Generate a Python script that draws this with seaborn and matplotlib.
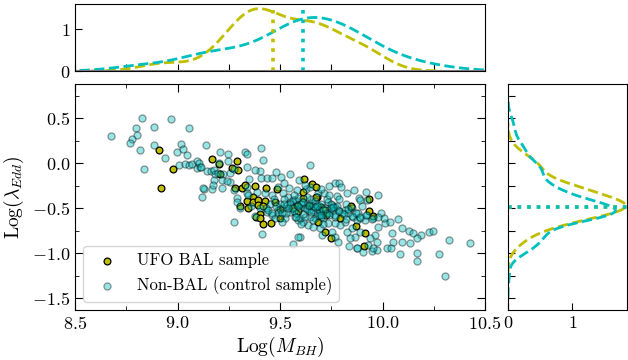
import numpy as np
import matplotlib
matplotlib.use("Agg")
import matplotlib.pyplot as plt
import seaborn as sns
from matplotlib.ticker import MultipleLocator

# ---------------- data ----------------
bal_mbh = [8.911, 8.976, 8.92, 9.17, 9.202, 9.209, 9.267, 9.289, 9.293, 9.282,
           9.313, 9.33, 9.305, 9.337, 9.345, 9.38, 9.43, 9.487, 9.617,
           9.656, 9.679, 9.936, 9.846, 9.936, 9.955, 9.91, 9.915, 9.747, 9.72,
           9.457, 9.419, 9.402, 9.381, 9.5, 9.37, 9.37, 9.394, 9.427, 9.478,
           9.394, 9.419, 9.5, 9.581, 9.589, 9.614, 9.642, 9.674, 9.70,
           9.72, 9.723, 9.687, 9.793, 9.845, 9.871, 9.678, 9.614, 9.565, 9.40]
bal_ledd = [0.145, -0.06, -0.27, 0.05, -0.005, -0.12, -0.055, 0.02, -0.07, -0.28,
            -0.28, -0.245, -0.48, -0.415, -0.50, -0.255, -0.275, -0.29, -0.175,
            -0.235, -0.38, -0.395, -0.49, -0.535, -0.585, -0.915, -0.78, -0.825, -0.76,
            -0.665, -0.68, -0.565, -0.595, -0.61, -0.37, -0.425, -0.41, -0.42, -0.43,
            -0.465, -0.48, -0.505, -0.48, -0.535, -0.39, -0.47, -0.38, -0.49,
            -0.52, -0.57, -0.65, -0.605, -0.475, -0.70, -0.26, -0.32, -0.50, -0.61]

nonbal_mbh = [
    8.676, 8.827, 8.967, 8.796, 8.885, 9.058, 8.80, 8.776, 8.768, 8.817,
    8.885, 8.937, 8.836, 8.996, 9.016, 9.026, 9.046, 9.009, 9.038, 9.056,
    9.069, 9.097, 9.095, 9.108, 9.127, 9.118, 9.137,
    9.207, 9.245, 9.33, 9.204, 9.106, 9.142, 9.163, 9.18, 9.183, 9.199,
    9.224, 9.256, 9.276, 9.215, 9.256, 9.18, 9.123, 9.17, 9.277, 9.289,
    9.277, 9.305,
    9.339, 9.407, 9.417, 9.246, 9.337, 9.40, 9.113, 9.24, 9.35, 9.407,
    9.435, 9.46, 9.505, 9.594, 9.215, 9.337, 9.49, 9.545,
    9.646, 9.768, 9.788, 9.798, 9.627,
    9.828, 9.776, 9.885, 9.92, 9.991, 10.014, 10.037, 10.078, 10.097, 10.045,
    10.128, 10.147, 10.186, 10.227, 10.248, 10.326, 10.427, 10.097, 10.134, 10.02,
    10.04, 10.085, 10.167, 10.167, 10.276, 10.307, 9.877, 9.947, 9.975, 9.838,
    9.866, 9.598, 9.565, 9.414, 9.378,
    9.581, 9.646, 9.687, 9.716, 9.98, 9.923, 9.89, 9.573, 9.606, 9.581,
    9.597, 9.63, 9.654, 9.662, 9.695, 9.736, 9.752, 9.768, 9.784, 9.817,
    9.833, 9.858, 9.874, 9.89, 9.914, 9.923, 9.955, 10.009, 9.98, 9.963,
    9.939, 9.89, 9.849, 9.825, 9.817, 9.793, 9.768, 9.736, 9.711, 9.671,
    9.638, 9.614, 9.589, 9.662, 9.695, 9.752, 9.768, 9.841, 9.874, 9.906,
    9.931, 9.971, 9.955, 10.053, 9.784, 9.703, 9.646, 9.687,
    9.175, 9.338, 9.386, 9.427, 9.46, 9.517, 9.541, 9.549, 9.565, 9.59,
    9.289, 9.346, 9.435, 9.46, 9.492, 9.517, 9.533, 9.549, 9.573, 9.525,
    9.476, 9.598, 9.59, 9.508,
    9.48, 9.55, 9.52, 9.62, 9.70, 9.74, 9.86, 9.90, 9.378, 10.167,
    # dense, overlapping core
    9.60, 9.62, 9.64, 9.66, 9.68, 9.70, 9.72, 9.74, 9.76, 9.78,
    9.70, 9.73, 9.65, 9.58, 9.55, 9.52, 9.50, 9.47, 9.45, 9.43,
    9.53, 9.57, 9.63, 9.67, 9.75, 9.80, 9.82, 9.85, 9.88, 9.62,
    9.66, 9.60, 9.71, 9.77, 9.69, 9.61, 9.56, 9.49, 9.74, 9.79,
    9.36, 9.40, 9.44, 9.48, 9.51, 9.54, 9.57, 9.59, 9.61, 9.63,
    9.65, 9.67, 9.69, 9.71, 9.73, 9.75, 9.77, 9.79, 9.81, 9.83,
    9.85, 9.87, 9.89, 9.92, 9.95, 9.98, 9.64, 9.70, 9.76, 9.58,
    9.52, 9.46, 9.82, 9.68, 9.74]
nonbal_ledd = [
    0.30, 0.50, 0.49, 0.39, 0.40, 0.39, 0.31, 0.27, 0.22, 0.15,
    0.20, 0.06, -0.06, 0.13, 0.21, 0.16, 0.09, -0.02, -0.005, -0.02,
    -0.005, 0.02, -0.05, -0.04, -0.29, -0.37, 0.20,
    0.13, 0.10, 0.13, 0.0, 0.0, -0.09, -0.09, -0.075, -0.12, -0.11,
    -0.12, -0.11, -0.06, -0.19, -0.205, -0.185, -0.28, -0.29, -0.30, -0.39,
    -0.65, -0.50,
    0.105, 0.17, 0.04, 0.03, -0.04, -0.085, -0.04, -0.20, -0.175, -0.165,
    -0.16, -0.165, -0.15, -0.185, -0.28, -0.26, -0.265, -0.27,
    -0.02, -0.22, -0.215, -0.26, -0.29,
    -0.335, -0.36, -0.39, -0.325, -0.555, -0.665, -0.65, -0.62, -0.72, -0.77,
    -0.75, -0.775, -0.795, -0.765, -0.75, -0.855, -0.885, -0.88, -0.89, -0.945,
    -0.945, -1.01, -0.995, -1.085, -1.01, -1.25, -0.945, -0.97, -0.965, -0.915,
    -0.815, -0.815, -0.90, -0.785, -0.59,
    -0.297, -0.26, -0.334, -0.334, -0.352, -0.408, -0.408, -0.408, -0.426, -0.463,
    -0.50, -0.463, -0.445, -0.519, -0.537, -0.426, -0.463, -0.482, -0.519, -0.519,
    -0.556, -0.593, -0.63, -0.611, -0.63, -0.574, -0.611, -0.611, -0.704, -0.797,
    -0.834, -0.76, -0.722, -0.76, -0.648, -0.685, -0.667, -0.667, -0.611, -0.611,
    -0.685, -0.648, -0.63, -0.704, -0.722, -0.76, -0.815, -0.834, -0.945, -0.982,
    -0.908, -0.871, -0.945, -0.871, -0.871, -0.797, -0.593, -0.463,
    -0.241, -0.334, -0.315, -0.334, -0.352, -0.334, -0.371, -0.426, -0.408, -0.389,
    -0.426, -0.352, -0.537, -0.574, -0.519, -0.50, -0.463, -0.537, -0.593, -0.611,
    -0.611, -0.611, -0.815, -0.648,
    -0.10, -0.12, -0.22, -0.24, -0.29, -0.25, -0.30, -0.47, -0.075, -0.83,
    # dense, overlapping core
    -0.45, -0.50, -0.52, -0.48, -0.55, -0.45, -0.50, -0.55, -0.52, -0.48,
    -0.60, -0.40, -0.40, -0.55, -0.45, -0.40, -0.45, -0.40, -0.45, -0.50,
    -0.55, -0.35, -0.38, -0.42, -0.45, -0.55, -0.45, -0.50, -0.55, -0.60,
    -0.63, -0.68, -0.67, -0.60, -0.52, -0.43, -0.50, -0.55, -0.35, -0.40,
    -0.48, -0.50, -0.52, -0.47, -0.55, -0.50, -0.53, -0.48, -0.56, -0.51,
    -0.54, -0.49, -0.57, -0.52, -0.55, -0.50, -0.58, -0.53, -0.56, -0.51,
    -0.59, -0.55, -0.60, -0.57, -0.62, -0.60, -0.46, -0.58, -0.49, -0.60,
    -0.45, -0.55, -0.62, -0.47, -0.57]

# median markers
bal_median_mbh = 9.465
nonbal_median_mbh = 9.61
bal_median_ledd = -0.49
nonbal_median_ledd = -0.49

labels = ["UFO BAL sample", "Non-BAL (control sample)"]

# ---------------- style ----------------
plt.rcParams.update({
    "font.family": "serif",
    "font.serif": ["cmr10", "DejaVu Serif"],
    "mathtext.fontset": "cm",
    "axes.formatter.use_mathtext": True,
    "axes.unicode_minus": True,
    "xtick.direction": "in",
    "ytick.direction": "in",
})

fig = plt.figure(figsize=(6.28, 3.6), dpi=100)
W, H = 628.0, 360.0
ax = fig.add_axes([75 / W, (H - 310) / H, 410 / W, 226 / H])
ax_top = fig.add_axes([75 / W, (H - 71) / H, 410 / W, 67 / H])
ax_r = fig.add_axes([508 / W, (H - 310) / H, 119 / W, 226 / H])

# ---------------- main scatter ----------------
sns.scatterplot(x=bal_mbh, y=bal_ledd, ax=ax, color="y", edgecolor="k",
                s=24, linewidth=0.9, label=labels[0], zorder=2)
sns.scatterplot(x=nonbal_mbh, y=nonbal_ledd, ax=ax, color="c", edgecolor="k",
                alpha=0.4, s=26, linewidth=0.9, label=labels[1], zorder=3)
ax.set_xlim(8.5, 10.5)
ax.set_ylim(-1.63, 0.88)
ax.xaxis.set_major_locator(MultipleLocator(0.5))
ax.xaxis.set_minor_locator(MultipleLocator(0.25))
ax.yaxis.set_major_locator(MultipleLocator(0.5))
ax.yaxis.set_minor_locator(MultipleLocator(0.25))
ax.tick_params(which="both", top=True, right=True, labelsize=13)
ax.tick_params(which="major", length=6)
ax.tick_params(which="minor", length=3)
ax.set_xlabel(r"Log($M_{BH}$)", fontsize=14, labelpad=2)
ax.set_ylabel(r"Log($\lambda_{Edd}$)", fontsize=14, labelpad=4)
leg = ax.legend(loc="lower left", fontsize=12, frameon=True, fancybox=True,
                borderaxespad=0.5)
leg.get_frame().set_edgecolor("0.8")

# ---------------- top marginal ----------------
sns.kdeplot(x=bal_mbh, ax=ax_top, color="y", ls="--", lw=2)
sns.kdeplot(x=nonbal_mbh, ax=ax_top, color="c", ls="--", lw=2, bw_adjust=1.15)
ax_top.axvline(bal_median_mbh, color="y", ls=":", lw=2.6)
ax_top.axvline(nonbal_median_mbh, color="c", ls=":", lw=2.6)
ax_top.axhline(0, color="gray", lw=2.2)
ax_top.set_xlim(8.5, 10.5)
ax_top.set_ylim(0, 1.6)
ax_top.xaxis.set_major_locator(MultipleLocator(0.25))
ax_top.set_yticks([0, 1])
ax_top.tick_params(labelbottom=False, labelsize=13, length=5)
ax_top.set_xlabel("")
ax_top.set_ylabel("")

# ---------------- right marginal ----------------
sns.kdeplot(y=bal_ledd, ax=ax_r, color="y", ls="--", lw=2)
sns.kdeplot(y=nonbal_ledd, ax=ax_r, color="c", ls="--", lw=2, bw_adjust=0.8)
ax_r.axhline(bal_median_ledd, color="y", ls=":", lw=2.6)
ax_r.axhline(nonbal_median_ledd, color="c", ls=":", lw=2.6)
ax_r.set_ylim(-1.63, 0.88)
ax_r.set_xlim(0, 1.85)
ax_r.yaxis.set_major_locator(MultipleLocator(0.25))
ax_r.set_xticks([0, 1])
ax_r.tick_params(labelleft=False, labelsize=13, length=5)
ax_r.set_xlabel("")
ax_r.set_ylabel("")

fig.savefig("out.png", dpi=100)
